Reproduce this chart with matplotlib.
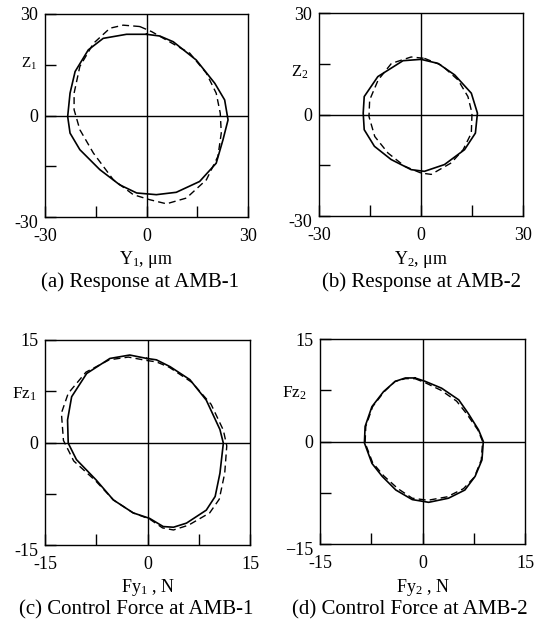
import matplotlib
matplotlib.use("Agg")
import matplotlib.pyplot as plt
import matplotlib.transforms as mtransforms
import numpy as np

plt.rcParams['font.family'] = ['Liberation Serif', 'DejaVu Serif']
plt.rcParams['mathtext.fontset'] = 'custom'
plt.rcParams['mathtext.rm'] = 'Liberation Serif'
plt.rcParams['mathtext.it'] = 'Liberation Serif:italic'

# orbit points (y, z), clockwise from the top
a_solid_y = [0, 3.9, 7.9, 14.7, 20.2, 23.1, 24.1, 22.6, 20.6, 15.7, 8.8, 2.9, -2.9, -7.9,
             -13.8, -19.7, -22.6, -23.3, -22.6, -21.1, -17.2, -12.8, -5.9]
a_solid_z = [24, 23.5, 21.8, 16.4, 9.5, 4.6, -1.3, -7.2, -14.1, -19.5, -22.7, -23.4, -22.9, -20.5,
             -16.0, -10.1, -5.2, -0.3, 6.6, 13, 19.4, 22.8, 24]
a_dash_y = [-2, 1.5, 5.9, 12.8, 17.7, 20.6, 21.8, 22.1, 21.1, 17.7, 11.8, 5.9, 1, -3.9, -9.8,
            -15.7, -19.7, -21.4, -21.4, -19.7, -15.7, -10.8, -6.9]
a_dash_z = [26.3, 24.8, 22.3, 18.4, 12.5, 6.6, 0.7, -5.2, -12.1, -19.0, -24.4, -26.1, -24.9, -23.4, -19.0,
            -11.1, -4.2, 1.7, 6.6, 14.5, 21.3, 25.8, 26.7]

b_solid_y = [0, 5, 9.9, 14.8, 16.6, 16, 12.8, 6.9, 1, -2.9, -8.8, -13.7, -16.7, -17, -16.7, -12.7, -5.3]
b_solid_z = [16.3, 15.1, 11.7, 6.3, 0.4, -5.5, -10.4, -14.8, -16.8, -16.3, -13.3, -9.4, -4.5, 0.4, 5.3, 11.2, 15.9]
b_dash_y = [1, 6, 10.9, 13.8, 15, 14.8, 12.4, 8.9, 3, 0, -4.8, -9.7, -13.6, -15.3, -15.1, -12.6, -8.7, -2.9]
b_dash_z = [16.6, 14.6, 10.2, 5.3, 0.4, -5.5, -10.4, -14.3, -17.7, -17.3, -15.3, -11.4, -6.5, -0.6, 4.3, 10.2, 15.1, 17]

c_solid_y = [-0.1, 1.3, 3.3, 6.2, 8.6, 10.6, 11.1, 10.6, 9.9, 8.6, 5.7, 3.8, 2.3, 0.3, -2.1, -5,
             -7.5, -10.4, -11.6, -11.7, -11.1, -8.9, -5.5, -2.6]
c_solid_z = [12.3, 12.1, 11.1, 9.2, 6.2, 1.9, -0.1, -4.5, -7.9, -9.9, -11.8, -12.4, -12.3, -11.1, -10.3, -8.4,
             -5.5, -2.5, -0.1, 3.3, 6.7, 10.1, 12.3, 12.8]
c_dash_y = [-0.1, 1.3, 3.2, 6.5, 9.3, 11.1, 11.6, 11.3, 10.5, 9.1, 6.0, 3.8, 2.2, 0.3, -2.1, -5,
            -7.6, -10.8, -12.3, -12.6, -11.6, -9.0, -5.6, -2.8]
c_dash_z = [12.0, 11.8, 11.0, 8.8, 5.6, 1.8, -0.5, -4.5, -8.3, -10.3, -12.1, -12.8, -12.5, -11.2, -10.3, -8.4,
            -5.6, -2.7, 0.3, 4.3, 7.2, 10.3, 12.1, 12.5]

d_solid_y = [-1.1, 0.4, 2.8, 5.3, 6.7, 8.2, 8.9, 8.7, 7.7, 6.2, 3.8, 0.9, -1.5, -3.9, -5.9, -7.4,
             -8.5, -8.4, -7.4, -5.7, -4, -2.5]
d_solid_z = [9.3, 8.8, 7.8, 6.1, 4.1, 1.7, 0, -2.7, -5.1, -7.1, -8.3, -8.9, -8.5, -7.1, -5.1, -3.2,
             -0.2, 2.2, 5.1, 7.3, 8.8, 9.3]
d_dash_y = [-1.1, 0.4, 2.7, 5.0, 6.5, 8.1, 8.8, 8.6, 7.6, 6.0, 3.6, 0.8, -1.5, -3.6, -5.7, -7.3,
            -8.4, -8.3, -7.3, -5.6, -4, -2.5]
d_dash_z = [9.2, 8.6, 7.5, 5.9, 4.0, 1.7, 0, -2.7, -5.2, -6.9, -8.1, -8.6, -8.3, -6.9, -5.0, -3.1,
            -0.2, 2.2, 5.1, 7.3, 8.8, 9.2]

lims = [30, 30, 15, 15]
ylabels = ['Z$_1$', 'Z$_2$', 'Fz$_1$', 'Fz$_2$']
xlabels = ['Y$_1$, \u03bcm', 'Y$_2$, \u03bcm', 'Fy$_1$ , N', 'Fy$_2$ , N']
titles = ['(a) Response at AMB-1', '(b) Response at AMB-2',
          '(c) Control Force at AMB-1', '(d) Control Force at AMB-2']

W, H = 535, 623
fig = plt.figure(figsize=(W / 100, H / 100), dpi=100)

# axes boxes in pixels: left, right, top, bottom
boxes = [(45, 248, 14, 217), (319, 523, 13, 216), (45, 250, 340, 545), (320, 525, 339, 544)]
ylab_pos = [(37, 64), (308, 72), (37, 394), (307, 393)]
xlab_y = [259, 259, 587, 587]
title_pos = [(140, 282), (422, 282), (136, 610), (410, 610)]
ylab_size = [11, 12, 12.5, 12.5]
yminus = ['-', '-', '-', '\u2212']

curves = [(a_solid_y, a_solid_z, a_dash_y, a_dash_z),
          (b_solid_y, b_solid_z, b_dash_y, b_dash_z),
          (c_solid_y, c_solid_z, c_dash_y, c_dash_z),
          (d_solid_y, d_solid_z, d_dash_y, d_dash_z)]

for i in range(4):
    l, r, t, b = boxes[i]
    ax = fig.add_axes([l / W, (H - b) / H, (r - l) / W, (b - t) / H])
    m = lims[i]
    sy, sz, dy, dz = curves[i]
    ax.plot(np.append(sy, sy[0]), np.append(sz, sz[0]), color='black', lw=1.2)
    ax.plot(np.append(dy, dy[0]), np.append(dz, dz[0]), color='black', lw=1.0,
            dashes=(5, 3))
    ax.axhline(0, color='black', lw=1.0)
    ax.axvline(0, color='black', lw=1.0)
    ax.set_xlim(-m, m)
    ax.set_ylim(-m, m)
    ticks = [-m, -m / 2, 0, m / 2, m]
    ax.set_xticks(ticks)
    ax.set_xticklabels(['-%d' % m, '', '0', '', '%d' % m])
    ax.set_yticks(ticks)
    ax.set_yticklabels([yminus[i] + '%d' % m, '', '0', '', '%d' % m])
    ax.tick_params(direction='in', length=8, width=1, labelsize=13)
    ax.tick_params(axis='x', pad=8)
    ax.tick_params(axis='y', pad=5)
    for s in ax.spines.values():
        s.set_linewidth(1.0)
    # bottom y label sits a little below the corner
    lab = ax.get_yticklabels()[0]
    lab.set_transform(lab.get_transform() +
                      mtransforms.ScaledTranslation(0, -3 / 72, fig.dpi_scale_trans))

    cx = (l + r) / 2
    fig.text(cx / W, 1 - xlab_y[i] / H, xlabels[i], ha='center', va='center', fontsize=13)
    fig.text(title_pos[i][0] / W, 1 - title_pos[i][1] / H, titles[i], ha='center', va='center',
             fontsize=15)
    fig.text(ylab_pos[i][0] / W, 1 - ylab_pos[i][1] / H, ylabels[i], ha='right', va='center',
             fontsize=ylab_size[i])

fig.savefig('out.png', dpi=100)
